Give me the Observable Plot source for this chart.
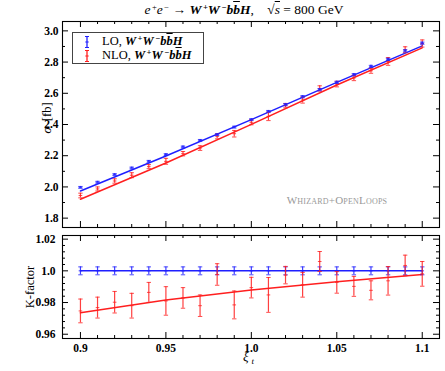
<!DOCTYPE html>
<html><head><meta charset="utf-8">
<script src="https://cdn.jsdelivr.net/npm/d3@7"></script>
<script src="https://cdn.jsdelivr.net/npm/@observablehq/plot@0.6"></script>
<style>
body{margin:0;background:#fff;}
#wrap{position:relative;width:445px;height:371px;overflow:hidden;font-family:"Liberation Serif",serif;color:#000;}
#wrap svg{position:absolute;left:0;}
.abs{position:absolute;white-space:nowrap;}
.title{top:2px;left:0;width:488px;text-align:center;font-size:13.5px;line-height:15px;}
sup{font-size:8.5px;vertical-align:4px;line-height:0;margin-left:1.5px;}
sub{font-size:9px;vertical-align:-3px;line-height:0;margin-left:3px;}
.bm{font-weight:bold;font-style:italic;}
.ov{text-decoration:overline;}
.legend{left:72px;top:32px;width:130px;height:30px;border:1px solid #444;background:#fff;font-size:12.5px;}
.leg-row{position:absolute;left:0;height:13px;}
.leg-txt{position:absolute;left:29px;top:0px;white-space:nowrap;line-height:13px;}
.ylab{transform:translate(-50%,-50%) rotate(-90deg);font-size:12.5px;}
.wm{left:277px;top:194px;width:120px;text-align:center;color:#999;font-size:11px;font-variant:small-caps;letter-spacing:0.2px;}
</style></head>
<body><div id="wrap"></div>
<script>
// ---- data ----
const xi = [0.90,0.91,0.92,0.93,0.94,0.95,0.96,0.97,0.98,0.99,1.00,1.01,1.02,1.03,1.04,1.05,1.06,1.07,1.08,1.09,1.10];
const loSigma    = [1.997,2.030,2.079,2.121,2.164,2.207,2.256,2.298,2.335,2.383,2.431,2.484,2.527,2.578,2.623,2.670,2.719,2.772,2.817,2.872,2.921];
const loSigmaErr = [0.006,0.006,0.006,0.006,0.006,0.006,0.006,0.006,0.006,0.006,0.006,0.006,0.007,0.007,0.007,0.007,0.007,0.007,0.007,0.007,0.007];
const nloSigma    = [1.945,1.987,2.038,2.075,2.130,2.164,2.213,2.249,2.324,2.341,2.414,2.452,2.521,2.557,2.631,2.659,2.698,2.744,2.804,2.879,2.919];
const nloSigmaErr = [0.015,0.013,0.014,0.016,0.013,0.019,0.014,0.015,0.016,0.021,0.016,0.027,0.014,0.020,0.017,0.018,0.017,0.016,0.025,0.019,0.023];
const loK    = [1.0,1.0,1.0,1.0,1.0,1.0,1.0,1.0,1.0,1.0,1.0,1.0,1.0,1.0,1.0,1.0,1.0,1.0,1.0,1.0,1.0];
const loKErr = [0.0025,0.0025,0.0025,0.0025,0.0025,0.0025,0.0025,0.0025,0.0025,0.0025,0.0025,0.0025,0.0025,0.0025,0.0025,0.0025,0.0025,0.0025,0.0025,0.0025,0.0025];
const nloK    = [0.9747,0.9768,0.9802,0.9780,0.9864,0.9810,0.9829,0.9780,0.9977,0.9785,0.9894,0.9848,0.9973,0.9912,1.0059,0.9927,0.9902,0.9877,0.9937,1.0034,0.9981];
const nloKErr = [0.0075,0.0066,0.0068,0.0078,0.0063,0.0090,0.0065,0.0068,0.0068,0.0088,0.0065,0.0110,0.0055,0.0078,0.0063,0.0068,0.0063,0.0060,0.0090,0.0065,0.0078];
const fitXi   = [0.90,0.95,1.00,1.05,1.10];
const fitLO   = [1.974,2.198,2.431,2.670,2.904];
const fitNLO  = [1.921,2.153,2.401,2.653,2.891];
const fitKLO  = [1.0,1.0,1.0,1.0,1.0];
const fitKNLO = [0.9735,0.9816,0.9879,0.9931,0.9977];
const xMajor = [0.9,0.95,1.0,1.05,1.1];
const xTickLabels = ["0.9","0.95","1.0","1.05","1.1"];
const sigmaMajor = [1.8,2.0,2.2,2.4,2.6,2.8,3.0];
const sigmaTickLabels = ["1.8","2.0","2.2","2.4","2.6","2.8","3.0"];
const kMajor = [0.96,0.98,1.0,1.02];
const kTickLabels = ["0.96","0.98","1.0","1.02"];
const BLUE = "#1f1fff", RED = "#ff1f1f";

// minor tick positions
const near = (a, arr) => arr.some(b => Math.abs(a - b) < 1e-6);
const xMinor = d3.range(0, 21).map(i => +(0.9 + i * 0.01).toFixed(3)).filter(v => !near(v, xMajor));
const sigmaMinor = d3.range(0, 6).map(i => +(1.9 + i * 0.2).toFixed(3));
const kMinor = d3.range(0, 16).map(i => +(0.96 + i * 0.004).toFixed(4)).filter(v => !near(v, kMajor));

const capSym = {draw(ctx, size) { const r = Math.sqrt(size / Math.PI); ctx.moveTo(-r, 0); ctx.lineTo(r, 0); }};
const font = {fontFamily: "Liberation Serif", fontSize: "11.5px", fontWeight: "bold", background: "transparent", overflow: "visible"};

function errMarks(ys, errs, color, sw) {
  const data = xi.map((x, i) => ({x, y: ys[i], lo: ys[i] - errs[i], hi: ys[i] + errs[i]}));
  return [
    Plot.ruleX(data, {x: "x", y1: "lo", y2: "hi", stroke: color, strokeWidth: sw, strokeOpacity: 0.85}),
    Plot.dot(data, {x: "x", y: "lo", symbol: capSym, r: 2.2, stroke: color, strokeWidth: 1, strokeOpacity: 0.8}),
    Plot.dot(data, {x: "x", y: "hi", symbol: capSym, r: 2.2, stroke: color, strokeWidth: 1, strokeOpacity: 0.8}),
    Plot.dot(data, {x: "x", y: "y", symbol: capSym, r: 1.8, stroke: color, strokeWidth: 1, strokeOpacity: 0.8})
  ];
}
function fitLine(ys, color) {
  return Plot.line(fitXi.map((x, i) => ({x, y: ys[i]})), {x: "x", y: "y", stroke: color, strokeWidth: 1.5, curve: "linear"});
}
function frameTicks(yMaj, yMin, plotW, plotH) {
  const L = 6, l = 3;
  return [
    Plot.tickX(xMajor, {x: d => d, insetTop: plotH - L, stroke: "#000", strokeWidth: 1}),
    Plot.tickX(xMinor, {x: d => d, insetTop: plotH - l, stroke: "#000", strokeWidth: 1}),
    Plot.tickX(xMajor, {x: d => d, insetBottom: plotH - L, stroke: "#000", strokeWidth: 1}),
    Plot.tickX(xMinor, {x: d => d, insetBottom: plotH - l, stroke: "#000", strokeWidth: 1}),
    Plot.tickY(yMaj, {y: d => d, insetRight: plotW - L, stroke: "#000", strokeWidth: 1}),
    Plot.tickY(yMin, {y: d => d, insetRight: plotW - l, stroke: "#000", strokeWidth: 1}),
    Plot.tickY(yMaj, {y: d => d, insetLeft: plotW - L, stroke: "#000", strokeWidth: 1}),
    Plot.tickY(yMin, {y: d => d, insetLeft: plotW - l, stroke: "#000", strokeWidth: 1})
  ];
}

const W = 445, mL = 62, mR = 6;
const plotW = W - mL - mR;

// ---- top panel ----
const topH = 231, topMT = 21, topMB = 4;
const topPlot = Plot.plot({
  width: W, height: topH, marginLeft: mL, marginRight: mR, marginTop: topMT, marginBottom: topMB,
  style: font,
  x: {domain: [0.8895, 1.1101], axis: null},
  y: {domain: [1.74, 3.06], axis: null},
  marks: [
    fitLine(fitNLO, RED),
    fitLine(fitLO, BLUE),
    ...errMarks(nloSigma, nloSigmaErr, RED, 1.2),
    ...errMarks(loSigma, loSigmaErr, BLUE, 1.6),
    ...frameTicks(sigmaMajor, sigmaMinor, plotW, topH - topMT - topMB),
    Plot.axisY(sigmaMajor, {anchor: "left", label: null, tickSize: 0, tickPadding: 4, tickFormat: d => sigmaTickLabels[sigmaMajor.indexOf(d)], fontWeight: "bold"}),
    Plot.frame({stroke: "#000", strokeWidth: 1.1})
  ]
});
topPlot.style.top = "0px";

// ---- bottom panel ----
const botH = 140, botMT = 4, botMB = 33;
const botPlot = Plot.plot({
  width: W, height: botH, marginLeft: mL, marginRight: mR, marginTop: botMT, marginBottom: botMB,
  style: font,
  x: {domain: [0.8895, 1.1101], axis: null},
  y: {domain: [0.9573, 1.0223], axis: null},
  marks: [
    fitLine(fitKLO, BLUE),
    fitLine(fitKNLO, RED),
    ...errMarks(loK, loKErr, BLUE, 1.2),
    ...errMarks(nloK, nloKErr, RED, 1.2),
    ...frameTicks(kMajor, kMinor, plotW, botH - botMT - botMB),
    Plot.axisY(kMajor, {anchor: "left", label: null, tickSize: 0, tickPadding: 7, tickFormat: d => kTickLabels[kMajor.indexOf(d)], fontWeight: "bold"}),
    Plot.axisX(xMajor, {anchor: "bottom", label: null, tickSize: 0, tickPadding: 5, tickFormat: d => xTickLabels[xMajor.indexOf(d)], fontWeight: "bold"}),
    Plot.frame({stroke: "#000", strokeWidth: 1.1})
  ]
});
botPlot.style.top = "231px";

const wrap = document.getElementById("wrap");
wrap.appendChild(topPlot);
wrap.appendChild(botPlot);

function errIcon(color) {
  return `<svg width="8" height="14" style="position:absolute;left:10px;top:0;overflow:visible"><line x1="4" y1="1.5" x2="4" y2="12.5" stroke="${color}" stroke-width="1.3"/><line x1="2" y1="1.5" x2="6" y2="1.5" stroke="${color}"/><line x1="2" y1="12.5" x2="6" y2="12.5" stroke="${color}"/><line x1="2.3" y1="7" x2="5.7" y2="7" stroke="${color}"/></svg>`;
}
const proc = `<span class="bm">W</span><sup class="bm">+</sup><span class="bm">W</span><sup class="bm">−</sup><span class="bm">b</span><span class="bm ov">b</span><span class="bm">H</span>`;
wrap.insertAdjacentHTML("beforeend", `
<div class="abs title"><i>e</i><sup>+</sup><i>e</i><sup>−</sup> → ${proc},&nbsp;&nbsp;&nbsp;&nbsp;√<span class="ov"><i>s</i></span> = 800 GeV</div>
<div class="abs legend">
  <div class="leg-row" style="top:2px">${errIcon(BLUE)}<div class="leg-txt">LO, ${proc}</div></div>
  <div class="leg-row" style="top:16px">${errIcon(RED)}<div class="leg-txt">NLO, ${proc}</div></div>
</div>
<div class="abs ylab" style="left:47px;top:118px;"><i>σ</i>&nbsp;&nbsp;[fb]</div>
<div class="abs ylab" style="left:30px;top:287px;">K-factor</div>
<div class="abs" style="left:243px;top:349px;font-size:13px;"><i>ξ</i><sub><i>t</i></sub></div>
<div class="abs wm">Whizard+OpenLoops</div>
`);
</script>
</body></html>
